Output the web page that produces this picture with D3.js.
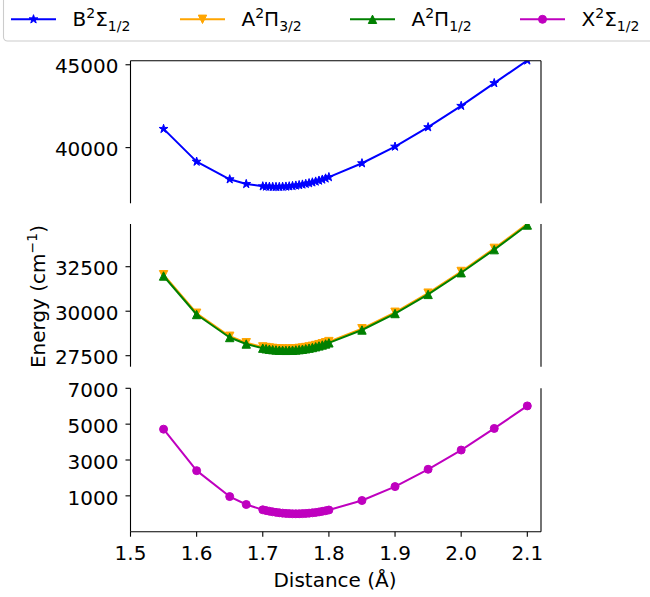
<!DOCTYPE html>
<html>
<head>
<meta charset="utf-8">
<script src="https://cdn.jsdelivr.net/npm/d3@7"></script>
<style>
  html, body { margin: 0; padding: 0; background: #fff; }
  svg { display: block; font-family: "DejaVu Sans", sans-serif; }
</style>
</head>
<body>
<svg id="chart" width="650" height="597"></svg>
<script>
// Bond distance (Å) of every computed point
const distance = [1.55, 1.60, 1.65, 1.675,
  1.700, 1.705, 1.710, 1.715, 1.720, 1.725, 1.730, 1.735, 1.740, 1.745, 1.750,
  1.755, 1.760, 1.765, 1.770, 1.775, 1.780, 1.785, 1.790, 1.795, 1.800,
  1.85, 1.90, 1.95, 2.00, 2.05, 2.10];

// Energies (cm^-1) of each electronic state
const energyB = [41131, 39154, 38089, 37805,
  37666, 37650, 37639, 37632, 37630, 37632, 37639, 37650, 37666, 37686, 37711,
  37740, 37774, 37812, 37855, 37902, 37954, 38010, 38071, 38140, 38220,
  39057, 40060, 41233, 42521, 43894, 45260];

const energyA32 = [32050, 29885, 28592, 28227,
  27993, 27960, 27933, 27910, 27893, 27880, 27873, 27870, 27873, 27880, 27893,
  27910, 27933, 27960, 27993, 28030, 28073, 28120, 28173, 28230, 28293,
  29014, 29940, 31014, 32233, 33530, 34913];

const energyA12 = [31978, 29815, 28522, 28157,
  27923, 27890, 27863, 27840, 27823, 27810, 27803, 27800, 27803, 27810, 27823,
  27840, 27863, 27890, 27923, 27960, 28003, 28050, 28103, 28160, 28223,
  28944, 29870, 30944, 32163, 33460, 34843];

const energyX = [4720, 2406, 960, 517,
  222, 180, 142, 109, 80, 56, 36, 20, 9, 2, 0,
  2, 9, 19, 34, 53, 76, 103, 135, 171, 211,
  740, 1517, 2483, 3555, 4760, 6017];

// Tick values
const xTicks = [1.5, 1.6, 1.7, 1.8, 1.9, 2.0, 2.1];
const yTicksTop = [40000, 45000];
const yTicksMid = [27500, 30000, 32500];
const yTicksBottom = [1000, 3000, 5000, 7000];

const svg = d3.select("#chart");
const FONT = 20;

const x = d3.scaleLinear().domain([1.5, 2.1207]).range([130.5, 541]);

// marker shapes
function triUp(s) { return `M0,${-s}L${-s},${s}L${s},${s}Z`; }
function triDown(s) { return `M0,${s}L${-s},${-s}L${s},${-s}Z`; }
const starPath = d3.symbol(d3.symbolStar, 24)();
const circlePath = d3.symbol(d3.symbolCircle, Math.PI * 4 * 4)();

const series = {
  B:   { values: energyB,   color: "#0000ff", marker: starPath },
  A32: { values: energyA32, color: "#ffa500", marker: triDown(4.2) },
  A12: { values: energyA12, color: "#008000", marker: triUp(4.2) },
  X:   { values: energyX,   color: "#bf00bf", marker: circlePath }
};

// three stacked panels of a broken y axis
const panels = [
  { id: "top", domain: [36640, 45245], range: [203.3, 60.7], ticks: yTicksTop,
    keys: ["B"], spines: { top: true, bottom: false } },
  { id: "mid", domain: [26882, 34900], range: [366.7, 224], ticks: yTicksMid,
    keys: ["A32", "A12"], spines: { top: false, bottom: false } },
  { id: "bot", domain: [-1000, 7000], range: [531.7, 388.3], ticks: yTicksBottom,
    keys: ["X"], spines: { top: false, bottom: true } }
];

const defs = svg.append("defs");

panels.forEach(p => {
  const y = d3.scaleLinear().domain(p.domain).range(p.range);
  const [x0, x1] = x.range();
  const yTop = p.range[1], yBot = p.range[0];

  defs.append("clipPath").attr("id", "clip-" + p.id)
    .append("rect").attr("x", x0).attr("y", yTop)
    .attr("width", x1 - x0).attr("height", yBot - yTop);

  const g = svg.append("g");
  const plot = g.append("g").attr("clip-path", `url(#clip-${p.id})`);

  p.keys.forEach(k => {
    const s = series[k];
    const pts = distance.map((d, i) => [d, s.values[i]]);
    const line = d3.line().x(d => x(d[0])).y(d => y(d[1]));
    plot.append("path").attr("d", line(pts))
      .attr("fill", "none").attr("stroke", s.color)
      .attr("stroke-width", 2).attr("stroke-linejoin", "round");
    plot.selectAll(null).data(pts).enter().append("path")
      .attr("d", s.marker)
      .attr("transform", d => `translate(${x(d[0])},${y(d[1])})`)
      .attr("fill", s.color).attr("stroke", s.color)
      .attr("stroke-width", 1).attr("stroke-linejoin", "round");
  });

  // spines
  const spine = (x1_, y1_, x2_, y2_) => g.append("line")
    .attr("x1", x1_).attr("y1", y1_).attr("x2", x2_).attr("y2", y2_)
    .attr("stroke", "#000").attr("stroke-width", 1.1);
  spine(x0, yTop, x0, yBot);
  spine(x1, yTop, x1, yBot);
  if (p.spines.top) spine(x0, yTop, x1, yTop);
  if (p.spines.bottom) spine(x0, yBot, x1, yBot);

  // y ticks
  p.ticks.forEach(t => {
    const ty = y(t);
    g.append("line").attr("x1", x0 - 5).attr("x2", x0).attr("y1", ty).attr("y2", ty)
      .attr("stroke", "#000").attr("stroke-width", 1.1);
    g.append("text").attr("x", x0 - 12).attr("y", ty + 8.7)
      .attr("text-anchor", "end").attr("font-size", FONT).attr("fill", "#000")
      .text(t);
  });

  // x axis on the lowest panel
  if (p.spines.bottom) {
    xTicks.forEach(t => {
      const tx = x(t);
      g.append("line").attr("x1", tx).attr("x2", tx).attr("y1", yBot).attr("y2", yBot + 5)
        .attr("stroke", "#000").attr("stroke-width", 1.1);
      g.append("text").attr("x", tx).attr("y", 559.5)
        .attr("text-anchor", "middle").attr("font-size", FONT).attr("fill", "#000")
        .text(t.toFixed(1));
    });
  }
});

// axis titles
svg.append("text").attr("x", 335).attr("y", 586.5)
  .attr("text-anchor", "middle").attr("font-size", FONT).attr("fill", "#000")
  .text("Distance (Å)");

const yl = svg.append("text")
  .attr("transform", "translate(44.5,296.5) rotate(-90)")
  .attr("text-anchor", "middle").attr("font-size", FONT).attr("fill", "#000");
yl.append("tspan").text("Energy (cm");
yl.append("tspan").attr("font-size", 14).attr("dy", -8).text("−1");
yl.append("tspan").attr("dy", 8).text(")");

// legend
const legend = svg.append("g");
legend.append("rect").attr("x", 3.5).attr("y", -6).attr("width", 670).attr("height", 47)
  .attr("rx", 4).attr("fill", "#fff").attr("fill-opacity", 0.8)
  .attr("stroke", "#cccccc").attr("stroke-width", 1.1);

const legendItems = [
  { key: "B",   x: 11,    label: ["B", "2", "Σ", "1/2"] },
  { key: "A32", x: 180,   label: ["A", "2", "Π", "3/2"] },
  { key: "A12", x: 350,   label: ["A", "2", "Π", "1/2"] },
  { key: "X",   x: 520,   label: ["X", "2", "Σ", "1/2"] }
];

legendItems.forEach(item => {
  const s = series[item.key];
  const ly = 19.3;
  legend.append("line").attr("x1", item.x).attr("x2", item.x + 45)
    .attr("y1", ly).attr("y2", ly).attr("stroke", s.color).attr("stroke-width", 2);
  legend.append("path").attr("d", s.marker)
    .attr("transform", `translate(${item.x + 22.5},${ly})`)
    .attr("fill", s.color).attr("stroke", s.color).attr("stroke-width", 1)
    .attr("stroke-linejoin", "round");
  const t = legend.append("text").attr("x", item.x + 61.5).attr("y", 26)
    .attr("font-size", FONT).attr("fill", "#000");
  t.append("tspan").text(item.label[0]);
  t.append("tspan").attr("font-size", 14).attr("dy", -8).text(item.label[1]);
  t.append("tspan").attr("dy", 8).text(item.label[2]);
  t.append("tspan").attr("font-size", 14).attr("dy", 4.5).text(item.label[3]);
});
</script>
</body>
</html>
